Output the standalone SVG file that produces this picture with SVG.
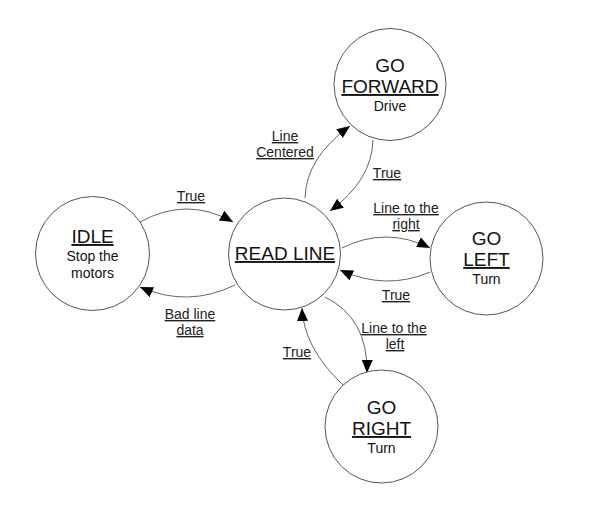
<svg xmlns="http://www.w3.org/2000/svg" width="600" height="517" viewBox="0 0 600 517">
<style>
.node{fill:#fff;stroke:#555;stroke-width:1}
.edge{fill:none;stroke:#666;stroke-width:1;marker-end:url(#arr)}
text{font-family:"Liberation Sans",Arial,sans-serif;fill:#111;text-anchor:middle}
.t{font-size:19px}
.s{font-size:14px}
.u{text-decoration:underline}
.l{font-size:14px;fill:#222;text-decoration:underline}
</style>
<defs>
<marker id="arr" markerUnits="userSpaceOnUse" markerWidth="14" markerHeight="12" refX="13" refY="5.5" orient="auto">
<path d="M0,0 L13,5.5 L0,11 Z" fill="#000"/>
</marker>
</defs>
<rect width="600" height="517" fill="#fff"/>
<g id="connectors">
<path class="edge" d="M140,222 Q187,196 233,222"/>
<path class="edge" d="M235,285 Q188,308 140,287"/>
<path class="edge" d="M305,198 Q306,158 350,126"/>
<path class="edge" d="M373,140 Q372,180 330,211"/>
<path class="edge" d="M342,248 Q386,226 430,248"/>
<path class="edge" d="M430,272 Q386,291 340,270"/>
<path class="edge" d="M325,297 Q368,318 367,373"/>
<path class="edge" d="M343,385 Q303.5,347.5 302,308"/>
<text class="l" x="191" y="201">True</text>
<text class="l" x="190" y="319">Bad line</text>
<text class="l" x="190" y="335">data</text>
<text class="l" x="285" y="141">Line</text>
<text class="l" x="285" y="157">Centered</text>
<text class="l" x="387" y="178">True</text>
<text class="l" x="406" y="213">Line to the</text>
<text class="l" x="406" y="229">right</text>
<text class="l" x="396" y="300">True</text>
<text class="l" x="394" y="333">Line to the</text>
<text class="l" x="395" y="349">left</text>
<text class="l" x="297" y="357">True</text>
</g>
<g id="idle">
<circle class="node" cx="92.5" cy="253.5" r="57"/>
<text class="t u" x="92.5" y="243">IDLE</text>
<text class="s" x="92.5" y="261">Stop the</text>
<text class="s" x="92.5" y="278">motors</text>
</g>
<g id="read_line">
<circle class="node" cx="284.5" cy="254" r="56"/>
<text class="t u" x="285" y="260">READ LINE</text>
</g>
<g id="go_forward">
<circle class="node" cx="390" cy="84.5" r="56"/>
<text class="t" x="390" y="72">GO</text>
<text class="t u" x="390" y="93">FORWARD</text>
<text class="s" x="390" y="111">Drive</text>
</g>
<g id="go_left">
<circle class="node" cx="486.5" cy="258.5" r="56.5"/>
<text class="t" x="486.5" y="245">GO</text>
<text class="t u" x="486.5" y="266">LEFT</text>
<text class="s" x="486.5" y="284">Turn</text>
</g>
<g id="go_right">
<circle class="node" cx="381.5" cy="426.5" r="56.5"/>
<text class="t" x="381.5" y="414">GO</text>
<text class="t u" x="381.5" y="435">RIGHT</text>
<text class="s" x="381.5" y="453">Turn</text>
</g>
</svg>
